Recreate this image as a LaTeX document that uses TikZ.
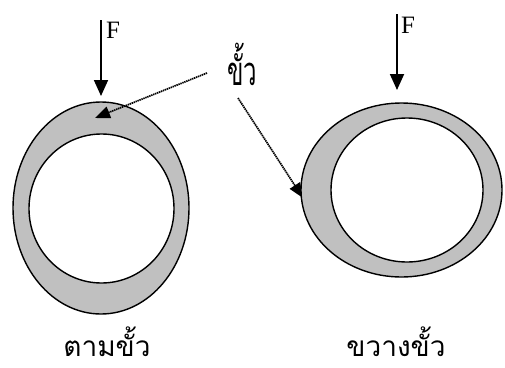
\documentclass[tikz,border=0pt]{standalone}
\usepackage{fontspec}
\setmainfont{Liberation Serif}
\newfontfamily\thaifont[Script=Thai]{Loma}
\usetikzlibrary{shapes.geometric,arrows.meta}
\tikzset{
  ring/.style={ellipse, draw, line width=1.4pt, inner sep=0pt, outer sep=0pt},
  outerring/.style={ring, fill={rgb,255:red,192;green,192;blue,192}},
  innerring/.style={ring, fill=white},
  force/.style={line width=1.8pt, -{Triangle[length=16pt,width=14pt]}},
  pointer/.style={line width=1.7pt, dash pattern=on 1.4pt off 0.7pt, -{Triangle[length=15pt,width=12pt]}},
  flabel/.style={font=\fontsize{25pt}{25pt}\selectfont, inner sep=0pt, anchor=base west},
  thlabel/.style={inner sep=0pt, anchor=base}
}
\begin{document}
\begin{tikzpicture}[x=1pt,y=-1pt]
\useasboundingbox (0,0) rectangle (505,367);
% right pointer drawn first (partly hidden by ring)
\coordinate (s2) at (238,98);
\coordinate (t2) at (303,198);
\draw[pointer] (s2) -- (t2);
% rings
\node[outerring, minimum width=176pt, minimum height=212pt] (Lout) at (101,208) {};
\node[innerring, minimum width=145pt, minimum height=149pt] (Lin) at (101.5,208.5) {};
\node[outerring, minimum width=201pt, minimum height=174pt] (Rout) at (401.5,190) {};
\node[innerring, minimum width=152pt, minimum height=144pt] (Rin) at (407,190) {};
% left pointer
\coordinate (s1) at (207,73);
\coordinate (t1) at (95,118);
\draw[pointer] (s1) -- (t1);
% forces
\coordinate (f1a) at (101,20);
\coordinate (f1b) at (101,96);
\draw[force] (f1a) -- (f1b);
\coordinate (f2a) at (397,14);
\coordinate (f2b) at (397,90);
\draw[force] (f2a) -- (f2b);
\node[flabel] (F1) at (106,38) {F};
\node[flabel] (F2) at (401,33) {F};
% Thai labels
\node[thlabel] (pole) at (242,85) {\thaifont\fontsize{40pt}{40pt}\selectfont\scalebox{0.6}[1]{ขั้ว}};
\node[thlabel] (along) at (107,356) {\thaifont\fontsize{28pt}{28pt}\selectfont ตามขั้ว};
\node[thlabel] (across) at (396,356) {\thaifont\fontsize{28pt}{28pt}\selectfont ขวางขั้ว};
\end{tikzpicture}
\end{document}
